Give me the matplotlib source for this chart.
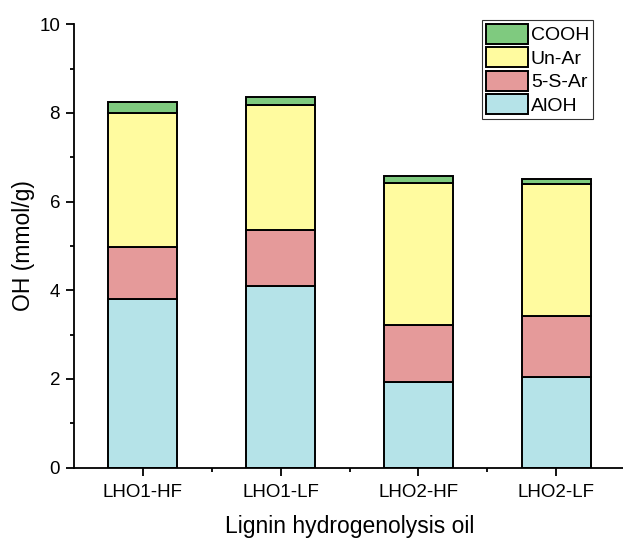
import numpy as np
import matplotlib.pyplot as plt
from matplotlib.ticker import MultipleLocator

plt.rcParams['font.family'] = ['Liberation Sans', 'DejaVu Sans']

samples = ["LHO1-HF", "LHO1-LF", "LHO2-HF", "LHO2-LF"]
aloh = [3.81, 4.09, 1.92, 2.04]
s5_ar = [1.16, 1.26, 1.29, 1.38]
un_ar = [3.04, 2.84, 3.21, 2.97]
cooh = [0.24, 0.16, 0.16, 0.12]

layers = [("AlOH", aloh, "#b5e3e8"),
          ("5-S-Ar", s5_ar, "#e59a9a"),
          ("Un-Ar", un_ar, "#fffb9f"),
          ("COOH", cooh, "#7fca7f")]

fig = plt.figure(figsize=(6.23, 5.38), dpi=100)
ax = fig.add_axes([0.1188, 0.131, 0.8845, 0.8238])

x = np.arange(1, len(samples) + 1)
bottom = np.zeros(len(samples))
handles = []
for name, vals, col in layers:
    b = ax.bar(x, vals, 0.5, bottom=bottom, color=col, edgecolor="black",
               linewidth=1.4, label=name)
    handles.append(b)
    bottom += np.array(vals)

ax.set_xlim(0.5, 4.5)
ax.set_ylim(0, 10)
ax.set_xticks(x)
ax.set_xticklabels(samples)
ax.set_xticks(x + 0.5, minor=True)
ax.yaxis.set_major_locator(MultipleLocator(2))
ax.yaxis.set_minor_locator(MultipleLocator(1))
ax.tick_params(which="major", length=6, width=1.3, labelsize=13.5,
               direction="out", pad=4)
ax.tick_params(axis="x", which="major", pad=6)
ax.tick_params(which="minor", length=3, width=1.3, direction="out")
for s in ["top", "right"]:
    ax.spines[s].set_visible(False)
for s in ["left", "bottom"]:
    ax.spines[s].set_linewidth(1.3)

ax.set_ylabel("OH (mmol/g)", fontsize=16.5, labelpad=3)
ax.set_xlabel("Lignin hydrogenolysis oil", fontsize=16.5, labelpad=10)

leg = ax.legend(handles[::-1], [h.get_label() for h in handles[::-1]],
                loc="upper right", bbox_to_anchor=(0.942, 1.0097), fontsize=14,
                frameon=True, fancybox=False, edgecolor="black",
                handlelength=2.15, handleheight=1.2, labelspacing=0.15,
                handletextpad=0.15, borderpad=0.2, borderaxespad=0.0)
leg.get_frame().set_linewidth(0.8)

fig.savefig("out.png", dpi=100)
